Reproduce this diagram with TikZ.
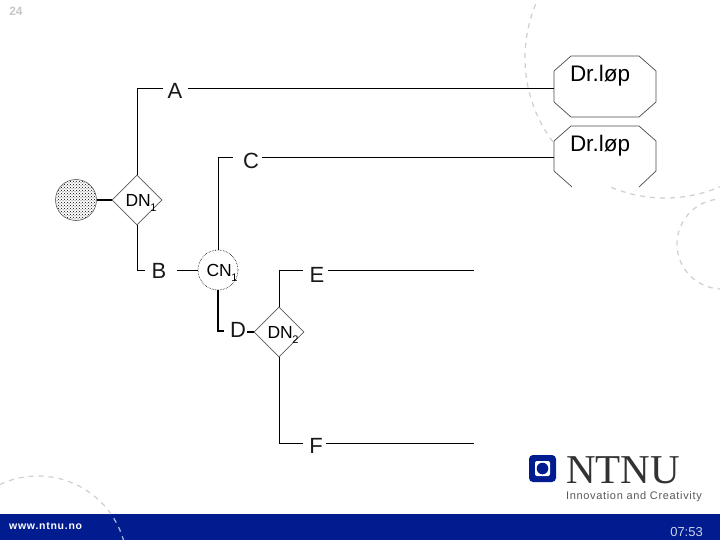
\documentclass[tikz,border=0pt]{standalone}
\usepackage{fontspec}
\setmainfont{Liberation Sans}
\newfontfamily\serifnt{Liberation Serif}
\newfontfamily\spacedfont[LetterSpace=6]{Liberation Sans}
\newfontfamily\webfont[LetterSpace=7]{Liberation Sans}
\usetikzlibrary{shapes.geometric,patterns}
\definecolor{barblue}{HTML}{001C8E}
\definecolor{arcgray}{HTML}{CFCFCF}
\newcommand{\subnum}[1]{\kern-0.5pt\raisebox{-5pt}{\fontsize{11}{11}\selectfont #1}}
\tikzset{
  wire/.style={draw=black,line width=0.9pt},
  heavy/.style={draw=black,line width=1.3pt},
  deco/.style={draw=arcgray,line width=1.2pt,dash pattern=on 5pt off 5pt},
  lab/.style={font=\fontsize{22}{22}\selectfont,inner sep=0pt,text=black!90},
  small/.style={font=\fontsize{17.5}{17.5}\selectfont,inner sep=0pt,text=black},
  drtext/.style={font=\fontsize{22.5}{22.5}\selectfont,inner sep=0pt,text=black},
  dia/.style={diamond,draw=black!65,line width=0.6pt,fill=white,minimum width=50pt,minimum height=50pt,inner sep=0pt,aspect=1},
  circ/.style={circle,draw=black,densely dotted,line width=0.6pt,fill=white,minimum size=40pt,inner sep=0pt},
  octaline/.style={draw=black!70,line width=0.7pt},
  anchorbox/.style={rectangle,draw=none,minimum width=102pt,minimum height=61pt,inner sep=0pt},
}
\begin{document}
\begin{tikzpicture}[x=1pt,y=-1pt]
\useasboundingbox (0,0) rectangle (720,540);
\fill[white] (0,0) rectangle (720,540);
% background decoration
\draw[deco] (665,58) circle[radius=140];
\draw[deco] (722,244) circle[radius=45];
\draw[deco] (38,565) circle[radius=89];
% footer
\fill[barblue] (0,514) rectangle (720,540);
\begin{scope}
  \clip (0,514) rectangle (720,540);
  \draw[draw=white!70!barblue,line width=1.2pt,dash pattern=on 5pt off 5pt] (38,565) circle[radius=89];
\end{scope}
\node[inner sep=0pt,anchor=west,text=white,font=\webfont\fontsize{10.5}{10.5}\selectfont\bfseries] (web) at (9,526) {www.ntnu.no};
\node[inner sep=0pt,anchor=east,text=white!80!barblue,font=\fontsize{13}{13}\selectfont] (clock) at (703,532) {07:53};
\node[inner sep=0pt,text=black!22,font=\fontsize{12}{12}\selectfont\bfseries] (pagenum) at (16,11) {24};
% logo
\fill[barblue,rounded corners=4pt] (529,455) rectangle (556,482);
\fill[white,rounded corners=2pt] (535,461) rectangle (550,476);
\fill[barblue] (542.5,468.5) circle[radius=5.8];
\node[inner sep=0pt,anchor=base west,text=black!80,font=\serifnt\fontsize{41}{41}\selectfont] (ntnu) at (566,483) {NTNU};
\node[inner sep=0pt,anchor=base west,text=black!65,font=\spacedfont\fontsize{11}{11}\selectfont] (slogan) at (566,499) {Innovation and Creativity};
% terminals
\node[anchorbox] (dr1) at (605,86.5) {};
\coordinate (ta1) at (571,56);
\coordinate (ta2) at (639,56);
\coordinate (ta3) at (656,71);
\coordinate (ta4) at (656,102);
\coordinate (ta5) at (639,117);
\coordinate (ta6) at (571,117);
\coordinate (ta7) at (554,102);
\coordinate (ta8) at (554,71);
\filldraw[octaline,fill=white] (ta1) -- (ta2) -- (ta3) -- (ta4) -- (ta5) -- (ta6) -- (ta7) -- (ta8) -- cycle;
\node[anchorbox] (dr2) at (605,156.5) {};
\coordinate (bl1) at (572,187);
\coordinate (bl2) at (554,171);
\coordinate (bl3) at (554,141);
\coordinate (bl4) at (571,126);
\coordinate (bl5) at (639,126);
\coordinate (bl6) at (656,141);
\coordinate (bl7) at (656,171);
\coordinate (bl8) at (639,187);
\fill[white] (bl1) -- (bl2) -- (bl3) -- (bl4) -- (bl5) -- (bl6) -- (bl7) -- (bl8) -- cycle;
\draw[octaline] (bl1) -- (bl2) -- (bl3) -- (bl4) -- (bl5) -- (bl6) -- (bl7) -- (bl8);
\node[drtext] (drt1) at (600,76) {Dr.løp};
\node[drtext] (drt2) at (600,146) {Dr.løp};
% nodes
\node[circle,draw=black!70,line width=0.5pt,pattern=crosshatch dots,minimum size=41pt,inner sep=0pt] (src) at (76,200) {};
\node[dia] (dn1) at (137,200) {};
\node[small] (dn1t) at (141,203) {DN\subnum{1}};
\node[circ] (cn1) at (218,270) {};
\node[small] (cn1t) at (222,273) {CN\subnum{1}};
\node[dia] (dn2) at (279,332) {};
\node[small] (dn2t) at (283,335) {DN\subnum{2}};
\node[lab] (A) at (175,91) {A};
\node[lab] (B) at (159,271) {B};
\node[lab] (C) at (251,161) {C};
\node[lab] (D) at (238,330) {D};
\node[lab] (E) at (317,275) {E};
\node[lab] (F) at (316,446) {F};
% junction points
\coordinate (aL) at (163,88);
\coordinate (aR) at (188,88);
\coordinate (bL) at (145,270);
\coordinate (bR) at (177,270);
\coordinate (cL) at (233,157);
\coordinate (cR) at (262,157);
\coordinate (dL) at (224,331);
\coordinate (dR) at (247,332);
\coordinate (eL) at (303,270);
\coordinate (eR) at (328,270);
\coordinate (eEnd) at (474,270);
\coordinate (fL) at (303,443);
\coordinate (fR) at (326,443);
\coordinate (fEnd) at (474,443);
% connectors
\draw[wire] (dn1.north) |- (aL);
\draw[wire] (aR) -- (aR -| dr1.west);
\draw[wire] (cn1.north) |- (cL);
\draw[wire] (cR) -- (cR -| dr2.west);
\draw[heavy] (src.east) -- (dn1.west);
\draw[wire] (dn1.south) |- (bL);
\draw[wire] (bR) -- (cn1.west);
\draw[heavy] (cn1.south) |- (dL);
\draw[heavy] (dR) -- (dn2.west);
\draw[wire] (dn2.north) |- (eL);
\draw[wire] (eR) -- (eEnd);
\draw[wire] (dn2.south) |- (fL);
\draw[wire] (fR) -- (fEnd);
\end{tikzpicture}
\end{document}
